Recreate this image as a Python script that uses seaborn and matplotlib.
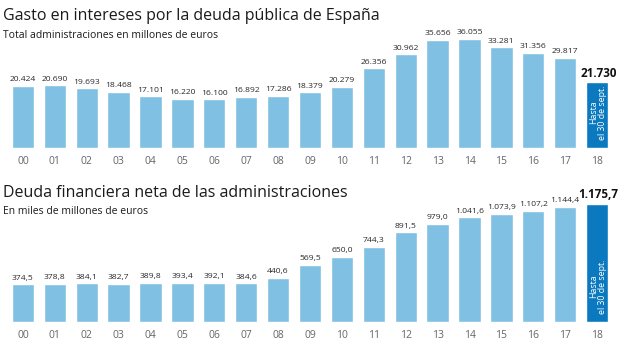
import matplotlib
matplotlib.use("Agg")
import matplotlib.pyplot as plt
import seaborn as sns

years = ["00", "01", "02", "03", "04", "05", "06", "07", "08", "09",
         "10", "11", "12", "13", "14", "15", "16", "17", "18"]
intereses = [20424, 20690, 19693, 18468, 17101, 16220, 16100, 16892, 17286, 18379,
             20279, 26356, 30962, 35656, 36055, 33281, 31356, 29817, 21730]
deuda = [374.5, 378.8, 384.1, 382.7, 389.8, 393.4, 392.1, 384.6, 440.6, 569.5,
         650.0, 744.3, 891.5, 979.0, 1041.6, 1073.9, 1107.2, 1144.4, 1175.7]

title1 = "Gasto en intereses por la deuda pública de España"
sub1 = "Total administraciones en millones de euros"
title2 = "Deuda financiera neta de las administraciones"
sub2 = "En miles de millones de euros"
note = "Hasta\nel 30 de sept."

LIGHT = "#80C0E3"
DARK = "#0A79BF"

sns.set_style("white")
plt.rcParams["font.family"] = ["Open Sans", "DejaVu Sans"]

W, H = 620, 347
fig = plt.figure(figsize=(W / 100, H / 100), dpi=100)


def px_axes(left, top, right, bottom):
    return fig.add_axes([left / W, 1 - bottom / H, (right - left) / W, (bottom - top) / H])


def fmt_int(v):
    return f"{int(round(v)):,}".replace(",", ".")


def fmt_dec(v):
    s = f"{v:,.1f}"
    return s.replace(",", "X").replace(".", ",").replace("X", ".")


def draw(ax, values, ymax, fmt):
    palette = [LIGHT] * (len(years) - 1) + [DARK]
    sns.barplot(x=years, y=values, hue=years, palette=palette, legend=False,
                width=0.7, saturation=1, ax=ax)
    ax.set_xlim(-0.5, len(years) - 0.5)
    ax.set_ylim(0, ymax)
    for s in ax.spines.values():
        s.set_visible(False)
    ax.set_yticks([])
    ax.set_xlabel("")
    ax.set_ylabel("")
    ax.tick_params(axis="x", length=0, pad=6, labelsize=7.5, labelcolor="#666666")
    n = len(values)
    for i, v in enumerate(values):
        if i == n - 1:
            ax.annotate(fmt(v), xy=(i, v), xytext=(1, 2), textcoords="offset points",
                        ha="center", va="bottom", fontsize=8.4, fontweight="bold",
                        color="#111111")
            ax.annotate(note, xy=(i, 0), xytext=(1, 6), textcoords="offset points",
                        ha="center", va="bottom", rotation=90, fontsize=6.3,
                        color="white", multialignment="center", linespacing=1.0)
        else:
            ax.annotate(fmt(v), xy=(i, v), xytext=(0, 2), textcoords="offset points",
                        ha="center", va="bottom", fontsize=6.1, color="#2a2a2a")


ax1 = px_axes(7, 30, 613, 148)
draw(ax1, intereses, 118 / 3.023 * 1000, fmt_int)

ax2 = px_axes(7, 190, 613, 322)
draw(ax2, deuda, 132 / 0.1004, fmt_dec)

fig.text(3 / W, 1 - 16 / H, title1, fontsize=11.5, color="#1a1a1a", va="center", ha="left")
fig.text(3 / W, 1 - 36 / H, sub1, fontsize=7.5, color="#1a1a1a", va="center", ha="left")
fig.text(3 / W, 1 - 193 / H, title2, fontsize=11.5, color="#1a1a1a", va="center", ha="left")
fig.text(3 / W, 1 - 212 / H, sub2, fontsize=7.5, color="#1a1a1a", va="center", ha="left")

fig.savefig("out.png", dpi=100)
